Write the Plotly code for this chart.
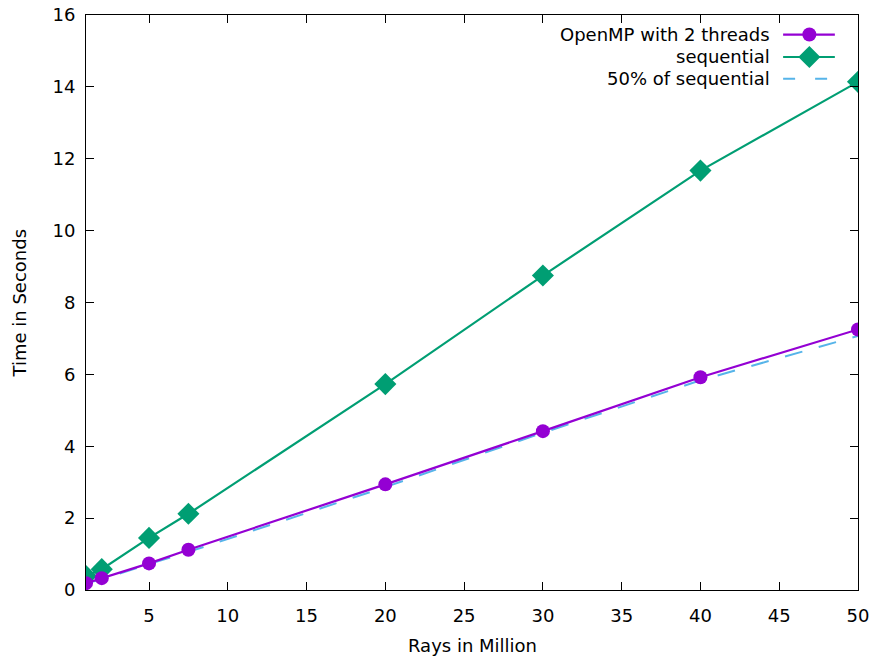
import plotly.graph_objects as go

# Rays traced (millions) and measured run times (seconds)
rays_million = [1, 2, 5, 7.5, 20, 30, 40, 50]
openmp_2_threads = [0.19, 0.33, 0.74, 1.12, 2.94, 4.42, 5.92, 7.25]
sequential = [0.39, 0.58, 1.45, 2.12, 5.73, 8.75, 11.67, 14.14]
half_sequential = [v * 0.5 for v in sequential]

series_names = ["OpenMP with 2 threads", "sequential", "50% of sequential"]
x_ticks = [5, 10, 15, 20, 25, 30, 35, 40, 45, 50]
y_ticks = [0, 2, 4, 6, 8, 10, 12, 14, 16]

PURPLE = "#9400D3"
GREEN = "#009E73"
BLUE = "#56B4E9"
FONT = "DejaVu Sans"
FSIZE = 18

fig = go.Figure()

fig.add_trace(go.Scatter(
    x=rays_million, y=half_sequential, mode="lines",
    line=dict(color=BLUE, width=2, dash="18px,17px"), showlegend=False,
))
fig.add_trace(go.Scatter(
    x=rays_million, y=sequential, mode="lines+markers",
    line=dict(color=GREEN, width=2.2),
    marker=dict(symbol="diamond", size=17, color=GREEN), showlegend=False,
))
fig.add_trace(go.Scatter(
    x=rays_million, y=openmp_2_threads, mode="lines+markers",
    line=dict(color=PURPLE, width=2.2),
    marker=dict(symbol="circle", size=14, color=PURPLE), showlegend=False,
))

# Key in the upper right corner, with samples to the right of the labels
key_lines = [
    dict(color=PURPLE, width=2.2),
    dict(color=GREEN, width=2.2),
    dict(color=BLUE, width=2, dash="12px,20px"),
]
key_markers = [
    dict(symbol="circle", size=14, color=PURPLE),
    dict(symbol="diamond", size=17, color=GREEN),
    None,
]
key_rows = [0.966, 0.927, 0.889]
for name, line, marker, row in zip(series_names, key_lines, key_markers, key_rows):
    fig.add_trace(go.Scatter(
        x=[0.903, 0.970], y=[row, row], xaxis="x2", yaxis="y2", mode="lines",
        line=line, showlegend=False, hoverinfo="skip",
    ))
    if marker is not None:
        fig.add_trace(go.Scatter(
            x=[0.937], y=[row], xaxis="x2", yaxis="y2", mode="markers",
            marker=marker, showlegend=False, hoverinfo="skip",
        ))
    fig.add_annotation(
        x=0.888, y=row, xref="x2", yref="y2", text=name, showarrow=False,
        xanchor="right", yanchor="middle", font=dict(family=FONT, size=FSIZE, color="#000"),
    )

# Axis titles
fig.add_annotation(
    x=0.5, y=-0.0957, xref="paper", yref="paper", text="Rays in Million", showarrow=False,
    xanchor="center", yanchor="middle", font=dict(family=FONT, size=FSIZE, color="#000"),
)
fig.add_annotation(
    x=-0.0855, y=0.5, xref="paper", yref="paper", text="Time in Seconds", showarrow=False,
    textangle=-90, xanchor="center", yanchor="middle", font=dict(family=FONT, size=FSIZE, color="#000"),
)

axis_common = dict(
    showgrid=False, zeroline=False, showline=True, linecolor="#000", linewidth=1,
    mirror="ticks", ticks="inside", ticklen=8, tickcolor="#000", tickwidth=1,
    tickfont=dict(family=FONT, size=FSIZE, color="#000"), automargin=False,
)

fig.update_layout(
    width=875, height=657,
    margin=dict(l=86, r=17, t=15, b=67),
    paper_bgcolor="white", plot_bgcolor="white",
    xaxis=dict(range=[1, 50], tickvals=x_ticks, ticklabelstandoff=9, **axis_common),
    yaxis=dict(range=[0, 16], tickvals=y_ticks, ticklabelstandoff=6, **axis_common),
    xaxis2=dict(range=[0, 1], overlaying="x", visible=False, fixedrange=True),
    yaxis2=dict(range=[0, 1], overlaying="y", visible=False, fixedrange=True),
    showlegend=False,
)

fig.write_html("out.html")
